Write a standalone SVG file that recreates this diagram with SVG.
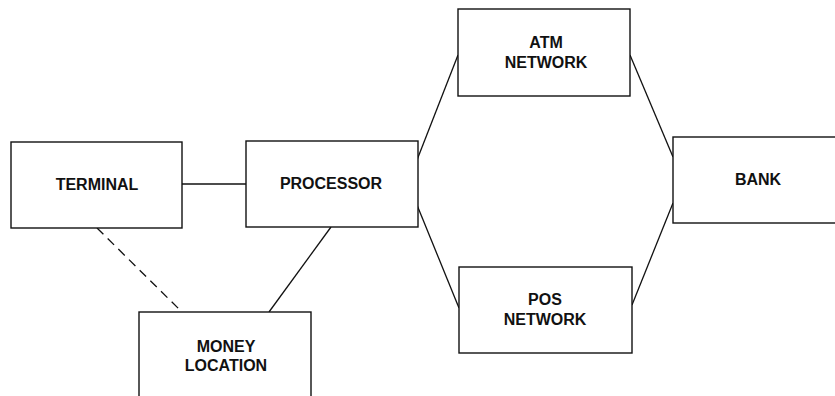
<svg xmlns="http://www.w3.org/2000/svg" width="835" height="396" viewBox="0 0 835 396">
<style>
.box{fill:#fff;stroke:#111;stroke-width:1.4}
.lbl{font-family:"Liberation Sans",Arial,sans-serif;font-weight:bold;font-size:16px;fill:#111;text-anchor:middle}
.ln{stroke:#111;stroke-width:1.3;fill:none}
.dash{stroke-dasharray:9,6}
</style>
<rect width="835" height="396" fill="#fff"/>
<g id="connectors">
<line class="ln" x1="182" y1="184" x2="246" y2="184"/>
<line class="ln dash" x1="97" y1="228" x2="182" y2="312"/>
<line class="ln" x1="331" y1="227" x2="269" y2="312"/>
<line class="ln" x1="417" y1="160" x2="458" y2="55"/>
<line class="ln" x1="417" y1="205" x2="459" y2="308"/>
<line class="ln" x1="630" y1="55" x2="673" y2="157"/>
<line class="ln" x1="632" y1="305" x2="673" y2="203"/>
</g>
<g id="terminal">
<rect class="box" x="11" y="142" width="171" height="86"/>
<text class="lbl" x="97" y="190">TERMINAL</text>
</g>
<g id="processor">
<rect class="box" x="246" y="141" width="172" height="86"/>
<text class="lbl" x="331" y="189">PROCESSOR</text>
</g>
<g id="money-location">
<rect class="box" x="139" y="312" width="172" height="100"/>
<text class="lbl" x="226" y="352">MONEY</text>
<text class="lbl" x="226" y="371">LOCATION</text>
</g>
<g id="atm-network">
<rect class="box" x="458" y="9" width="172" height="87"/>
<text class="lbl" x="546" y="48">ATM</text>
<text class="lbl" x="546" y="68">NETWORK</text>
</g>
<g id="pos-network">
<rect class="box" x="459" y="267" width="173" height="86"/>
<text class="lbl" x="545" y="305">POS</text>
<text class="lbl" x="545" y="325">NETWORK</text>
</g>
<g id="bank">
<rect class="box" x="673" y="137" width="180" height="86"/>
<text class="lbl" x="758" y="185">BANK</text>
</g>
</svg>
